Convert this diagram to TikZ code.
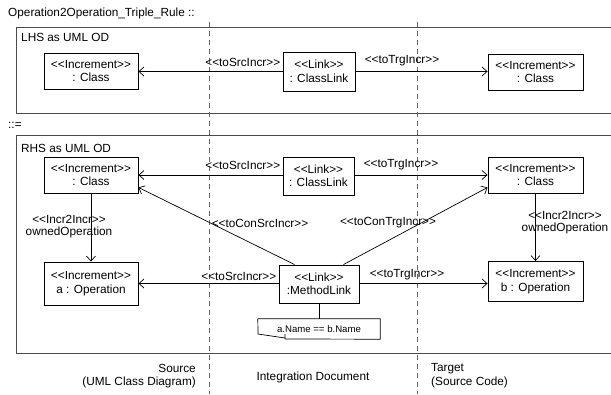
\documentclass[tikz,border=0pt]{standalone}
\usepackage{fontspec}
\setmainfont{Liberation Sans}
\usetikzlibrary{arrows.meta}
\newcommand{\stereo}[1]{<{}<#1>{}>}
\begin{document}
\begin{tikzpicture}[x=1pt,y=-1pt,font=\fontsize{11.8}{13.5}\selectfont,
  obj/.style={draw, line width=0.9pt, align=center, inner sep=0pt, minimum width=94pt, minimum height=36pt},
  conn/.style={-{Straight Barb[length=5pt,width=9pt]}, line width=0.7pt},
  lbl/.style={inner sep=0pt},
  frame/.style={draw=black!70, line width=0.9pt},
  lane/.style={draw=black!60, dash pattern=on 4.5pt off 4.5pt, line width=0.7pt}]
  \useasboundingbox (0,0) rectangle (611,394);
  % frames and lanes
  \node[lbl, anchor=west] (title) at (8,13) {Operation2Operation\_Triple\_Rule ::};
  \draw[frame] (16,27) rectangle (613,113);
  \node[lbl, anchor=west] (lhs) at (21,37) {LHS as UML OD};
  \node[lbl, anchor=west] (derives) at (8,125) {::=};
  \draw[frame] (16,135) rectangle (613,353);
  \node[lbl, anchor=west] (rhs) at (21,148) {RHS as UML OD};
  \draw[lane] (209,22) -- (209,394);
  \draw[lane] (417,22) -- (417,394);
  % LHS
  \node[obj] (lSrc) at (91,71) {\stereo{Increment}\\: Class};
  \node[obj, minimum width=72pt, minimum height=39pt] (lLink) at (319,71.5) {\stereo{Link}\\: ClassLink};
  \node[obj, minimum width=95pt] (lTrg) at (535.5,72) {\stereo{Increment}\\: Class};
  \draw[conn] (lLink.west) -- node[lbl, pos=0, anchor=south east, xshift=-2pt, yshift=5pt] (lSrcLbl) {\stereo{toSrcIncr}} (lLink.west -| lSrc.east);
  \draw[conn] (lLink.east) -- node[lbl, pos=0, anchor=south west, xshift=9pt, yshift=5pt] (lTrgLbl) {\stereo{toTrgIncr}} (lLink.east -| lTrg.west);
  % RHS
  \node[obj] (rSrc) at (91,175) {\stereo{Increment}\\: Class};
  \node[obj, minimum width=71pt, minimum height=38pt] (rLink) at (318.5,176) {\stereo{Link}\\: ClassLink};
  \node[obj, minimum width=95pt] (rTrg) at (535.5,175) {\stereo{Increment}\\: Class};
  \node[obj, minimum height=43pt] (srcOp) at (91,283.5) {\stereo{Increment}\\a : Operation};
  \node[obj, minimum width=80pt, minimum height=38pt] (mLink) at (319,284) {\stereo{Link}\\:MethodLink};
  \node[obj, minimum width=95pt, minimum height=40pt] (trgOp) at (535.5,281.5) {\stereo{Increment}\\b : Operation};
  \draw[conn] (rLink.west |- rSrc.east) -- node[lbl, pos=0, anchor=south east, xshift=-2pt, yshift=5pt] (rSrcLbl) {\stereo{toSrcIncr}} (rSrc.east);
  \draw[conn] (rLink.east |- rTrg.west) -- node[lbl, pos=0, anchor=south west, xshift=9pt, yshift=5pt] (rTrgLbl) {\stereo{toTrgIncr}} (rTrg.west);
  \draw[conn] (rSrc.south) -- (srcOp.north);
  \node[lbl, align=center, font=\fontsize{11.8}{12}\selectfont] (srcOwn) at (69,227) {\stereo{Incr2Incr}\\ownedOperation};
  \draw[conn] (rTrg.south) -- (trgOp.north);
  \node[lbl, align=center, font=\fontsize{11.8}{12}\selectfont] (trgOwn) at (565,223) {\stereo{Incr2Incr}\\ownedOperation};
  \draw[conn] ([xshift=16pt]mLink.north west) -- ([yshift=6pt]rSrc.south east);
  \node[lbl] (conSrcLbl) at (260,223) {\stereo{toConSrcIncr}};
  \draw[conn] ([xshift=-16pt]mLink.north east) -- ([yshift=6pt]rTrg.south west);
  \node[lbl] (conTrgLbl) at (388,223) {\stereo{toConTrgIncr}};
  \draw[conn] (mLink.west |- srcOp.east) -- node[lbl, pos=0, anchor=south east, xshift=-2pt, yshift=3pt] (opSrcLbl) {\stereo{toSrcIncr}} (srcOp.east);
  \draw[conn] (mLink.east |- srcOp.east) -- node[lbl, pos=0, anchor=south west, xshift=10pt, yshift=3pt] (opTrgLbl) {\stereo{toTrgIncr}} (srcOp.east -| trgOp.west);
  % constraint note
  \node[lbl, minimum width=122pt, minimum height=20pt, font=\fontsize{9.6}{11}\selectfont] (note) at (319,329) {a.Name == b.Name};
  \draw[line width=0.7pt] (note.north west) -- (note.north east) -- (note.south east) -- (285,339)
    (note.north west) -- (258,334) -- (285,338) (285,334) -- (285,339);
  \draw[line width=0.7pt] (mLink.south) -- (note.north);
  % lanes captions
  \node[lbl, align=right, anchor=east] (srcLane) at (196,376) {Source\\(UML Class Diagram)};
  \node[lbl] (intLane) at (313,377) {Integration Document};
  \node[lbl, align=left, anchor=west] (trgLane) at (431,375.5) {Target\\(Source Code)};
\end{tikzpicture}
\end{document}
